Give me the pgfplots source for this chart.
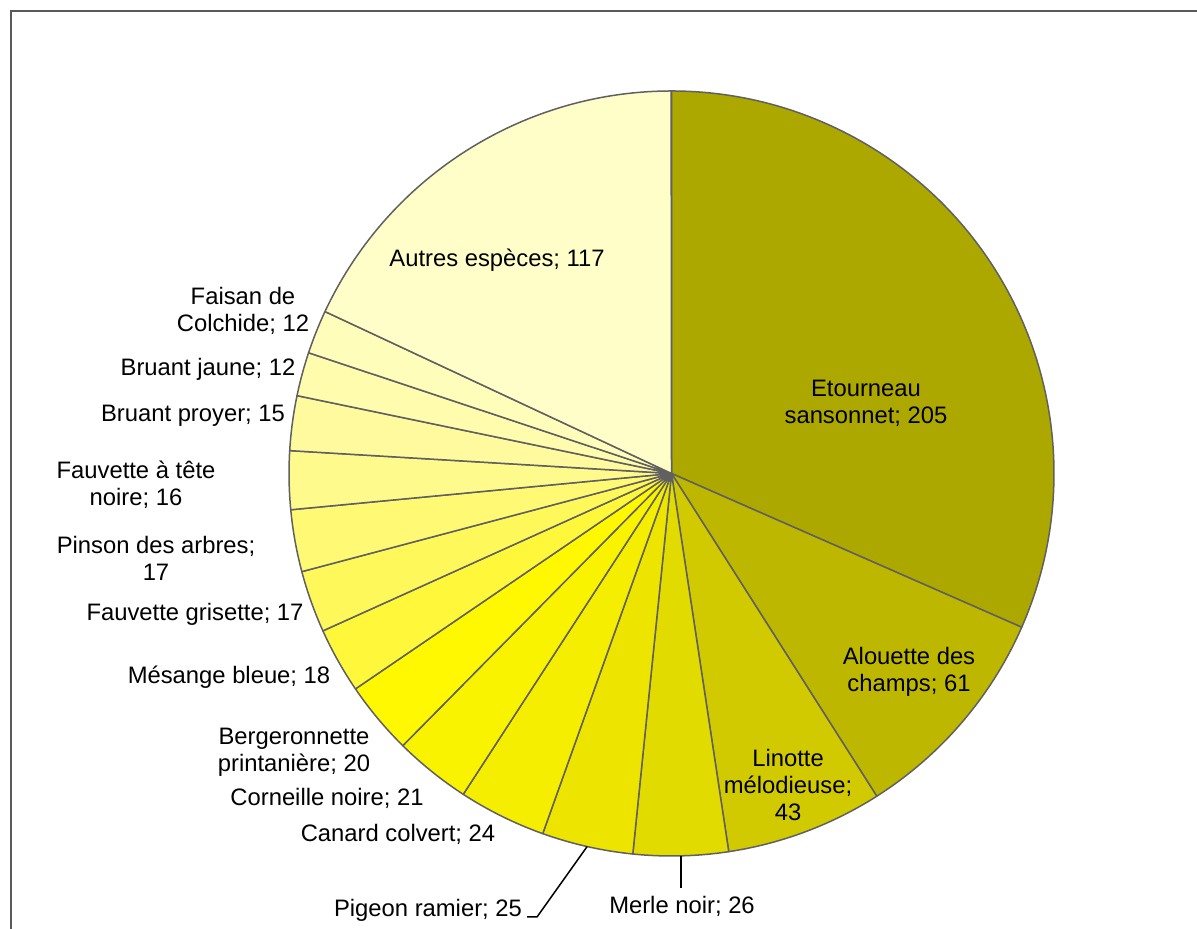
\documentclass[border=0pt]{standalone}
\usepackage{fontspec}
\setmainfont{Liberation Sans}
\usepackage{pgfplots}
\pgfplotsset{compat=1.18}

\definecolor{pc1}{HTML}{ADA800}
\definecolor{pc2}{HTML}{BDB700}
\definecolor{pc3}{HTML}{D1CA00}
\definecolor{pc4}{HTML}{E2DB00}
\definecolor{pc5}{HTML}{EDE500}
\definecolor{pc6}{HTML}{F5EE00}
\definecolor{pc7}{HTML}{FAF300}
\definecolor{pc8}{HTML}{FFF800}
\definecolor{pc9}{HTML}{FFF83A}
\definecolor{pc10}{HTML}{FFF85A}
\definecolor{pc11}{HTML}{FFF973}
\definecolor{pc12}{HTML}{FFFA8C}
\definecolor{pc13}{HTML}{FFFA9E}
\definecolor{pc14}{HTML}{FFFCAE}
\definecolor{pc15}{HTML}{FFFDBA}
\definecolor{pc16}{HTML}{FFFEC8}
\definecolor{edgegray}{HTML}{606060}
\definecolor{framegray}{HTML}{595959}

% Etourneau, Alouette, Linotte, Merle, Pigeon, Canard, Corneille, Bergeronnette,
% Mesange, F. grisette, Pinson, F. tete noire, B. proyer, B. jaune, Faisan, Autres
\def\pievalues{205,61,43,26,25,24,21,20,18,17,17,16,15,12,12,117}

\begin{document}
\begin{tikzpicture}
\xdef\pietotal{0}
\foreach \v in \pievalues {\pgfmathparse{\pietotal+\v}\xdef\pietotal{\pgfmathresult}}
\xdef\curang{90}
\foreach \v [count=\i] in \pievalues {
  \pgfmathsetmacro\frac{\v/\pietotal}
  \pgfmathsetmacro\e{\curang-360*\frac}
  \pgfmathsetmacro\m{\curang-180*\frac}
  \pgfmathsetmacro\sx{671.5+382.5*cos(\curang)}
  \pgfmathsetmacro\sy{455.5+382.5*sin(\curang)}
  \pgfmathsetmacro\mx{671.5+382.5*cos(\m)}
  \pgfmathsetmacro\my{455.5+382.5*sin(\m)}
  \expandafter\xdef\csname pieS\i\endcsname{\curang}
  \expandafter\xdef\csname pieE\i\endcsname{\e}
  \expandafter\xdef\csname pieX\i\endcsname{\sx}
  \expandafter\xdef\csname pieY\i\endcsname{\sy}
  \expandafter\xdef\csname pieMX\i\endcsname{\mx}
  \expandafter\xdef\csname pieMY\i\endcsname{\my}
  \xdef\curang{\e}
}
\begin{axis}[
  scale only axis, width=598.5pt, height=464.5pt,
  xmin=0, xmax=1197, ymin=0, ymax=929,
  hide axis, clip=false]
\coordinate (SWc) at (axis cs:0,0);
\coordinate (NEc) at (axis cs:1197,929);
\draw[color=framegray, line width=1pt] (axis cs:11,0) -- (axis cs:11,918) -- (axis cs:1197,918);
\pgfplotsinvokeforeach{1,...,16}{
  \filldraw[fill=pc#1, draw=edgegray, line width=0.75pt, line join=round]
    (axis cs:671.5,455.5) -- (axis cs:\csname pieX#1\endcsname,\csname pieY#1\endcsname)
    arc[start angle=\csname pieS#1\endcsname, end angle=\csname pieE#1\endcsname, radius=191.25pt] -- cycle;
}
% leader lines
\draw[black, line width=0.75pt] (axis cs:527,12) -- (axis cs:537,12) -- (axis cs:\csname pieMX5\endcsname,\csname pieMY5\endcsname);
\draw[black, line width=0.75pt] (axis cs:\csname pieMX4\endcsname,\csname pieMY4\endcsname) -- (axis cs:\csname pieMX4\endcsname,41);
% labels
\tikzset{lab/.style={font=\fontsize{11.9pt}{13.5pt}\selectfont, inner sep=0pt, align=center, text=black}}
\node[lab] at (axis cs:866,525.5) {Etourneau\\sansonnet; 205};
\node[lab] at (axis cs:909,257) {Alouette des\\champs; 61};
\node[lab] at (axis cs:788,144) {Linotte\\mélodieuse;\\43};
\node[lab, anchor=base] at (axis cs:682,15.5) {Merle noir; 26};
\node[lab, anchor=base] at (axis cs:428,12.5) {Pigeon ramier; 25};
\node[lab, anchor=base] at (axis cs:398,87.5) {Canard colvert; 24};
\node[lab, anchor=base] at (axis cs:327,123.5) {Corneille noire; 21};
\node[lab] at (axis cs:294,176.5) {Bergeronnette\\printanière; 20};
\node[lab, anchor=base] at (axis cs:229,245.5) {Mésange bleue; 18};
\node[lab, anchor=base] at (axis cs:195,308.5) {Fauvette grisette; 17};
\node[lab] at (axis cs:156,370.5) {Pinson des arbres;\\17};
\node[lab] at (axis cs:136,444.5) {Fauvette à tête\\noire; 16};
\node[lab, anchor=base] at (axis cs:193,507.5) {Bruant proyer; 15};
\node[lab, anchor=base] at (axis cs:208,553.5) {Bruant jaune; 12};
\node[lab] at (axis cs:243,618.5) {Faisan de\\Colchide; 12};
\node[lab, anchor=base] at (axis cs:497,662.5) {Autres espèces; 117};
\end{axis}
\pgfresetboundingbox
\path (SWc) rectangle (NEc);
\end{tikzpicture}
\end{document}
